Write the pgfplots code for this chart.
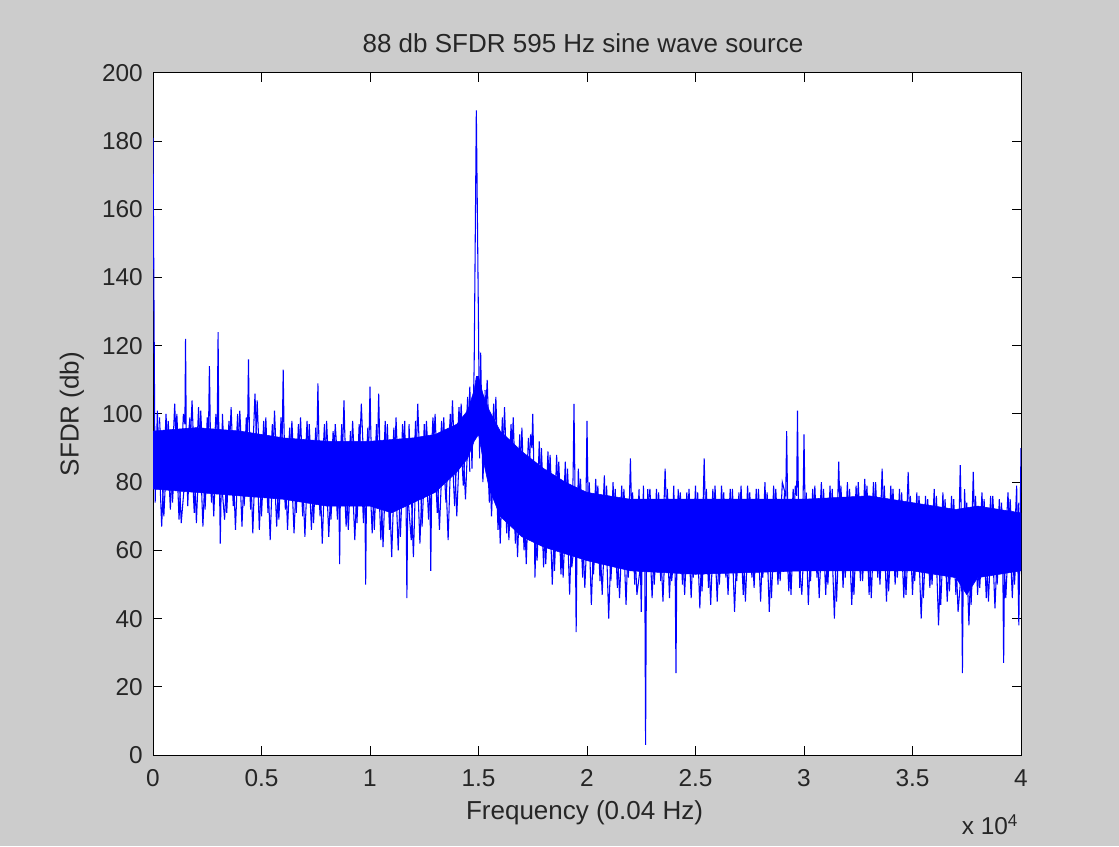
\documentclass[border=0pt]{standalone}
\usepackage{pgfplots}
\pgfplotsset{compat=1.18}
\usepackage{fontspec}
\setmainfont{Liberation Sans}
\definecolor{figgray}{gray}{0.8}
\definecolor{mblue}{rgb}{0,0,1}
\begin{document}
\begin{tikzpicture}
\fill[figgray] (0,0) rectangle (839.25pt,634.5pt);
\begin{axis}[
  at={(114.75pt,68.25pt)}, anchor=south west,
  scale only axis, width=651pt, height=511.5pt,
  xmin=0, xmax=4, ymin=0, ymax=200,
  xtick={0,0.5,1,1.5,2,2.5,3,3.5,4},
  ytick={0,20,40,60,80,100,120,140,160,180,200},
  tick align=inside, major tick length=6.5pt,
  tick style={black, line width=0.75pt},
  axis line style={black, line width=0.75pt},
  axis background/.style={fill=white},
  /pgf/number format/assume math mode=true,
  ticklabel style={font=\fontsize{18.3}{20}\selectfont, text=black!85},
  xticklabel style={anchor=north, inner sep=0pt, yshift=-11pt},
  yticklabel style={anchor=east, inner sep=0pt, xshift=-7.5pt},
  clip=true,
]
% dense core of the noise floor
\addplot[draw=mblue, line width=0.4pt, fill=mblue] coordinates {
(0,95)(0.2,96)(0.4,95)(0.6,93)(0.8,92)(1.0,92)(1.2,93)(1.3,94)(1.4,97)(1.45,101)(1.48,107)(1.49,111)(1.5,111)(1.52,106)(1.55,101)(1.6,95)(1.7,89)(1.8,84)(1.9,80)(2.0,77)(2.2,75)(2.5,75)(3.0,75)(3.3,76)(3.5,74)(3.7,72)(3.8,73)(4.0,71)
(4.0,54)(3.8,52)(3.75,47)(3.7,52)(3.5,54)(3.0,54)(2.5,53)(2.2,54)(2.0,57)(1.9,59)(1.8,61)(1.7,64)(1.6,70)(1.55,78)(1.52,87)(1.5,94)(1.48,92)(1.45,87)(1.4,83)(1.3,77)(1.2,74)(1.1,71)(1.0,73)(0.8,73)(0.6,75)(0.4,76)(0.2,77)(0,78)
} -- cycle;
% spectrum trace (even bins)
\addplot[mblue, line width=0.8pt, mark=none] coordinates {
(0.00,181)(0.01,74)(0.02,101)(0.04,67)(0.06,100)(0.08,72)(0.10,103)(0.12,69)(0.14,100)(0.147,97)(0.15,122)(0.153,96)
(0.16,73)(0.18,104)(0.20,68)(0.22,101)(0.24,72)(0.256,96)(0.26,114)(0.264,96)(0.28,70)(0.296,97)(0.30,124)(0.303,96)(0.31,62)(0.32,100)
(0.34,71)(0.36,102)(0.38,66)(0.40,101)(0.42,73)(0.436,96)(0.44,116)(0.444,96)(0.46,65)(0.48,104)(0.50,70)(0.52,99)
(0.54,63)(0.56,101)(0.58,69)(0.596,95)(0.60,113)(0.604,95)(0.62,66)(0.64,98)(0.66,71)(0.68,99)(0.70,64)(0.72,97)
(0.74,68)(0.756,94)(0.76,109)(0.764,94)(0.78,62)(0.80,98)(0.82,69)(0.84,97)(0.856,80)(0.86,56)(0.864,80)(0.876,94)(0.88,104)(0.884,94)(0.90,66)(0.92,98)
(0.94,68)(0.96,103)(0.976,78)(0.98,50)(0.984,78)(0.996,94)(1.00,108)(1.004,94)(1.02,66)(1.036,94)(1.04,106)(1.044,94)(1.06,61)(1.08,97)(1.10,58)(1.12,99)
(1.14,64)(1.16,98)(1.166,76)(1.17,46)(1.174,76)(1.18,97)(1.20,58)(1.22,103)(1.24,67)(1.26,98)(1.276,78)(1.28,54)(1.284,78)(1.30,100)
(1.32,66)(1.34,99)(1.36,63)(1.38,104)(1.40,70)(1.42,103)(1.44,75)(1.46,108)(1.47,84)(1.48,114)
(1.49,189)(1.50,126)(1.505,87)(1.51,118)(1.52,80)(1.54,110)(1.56,70)(1.58,105)(1.60,62)(1.62,102)
(1.64,63)(1.66,99)(1.68,58)(1.70,96)(1.72,56)(1.74,94)(1.746,90)(1.75,100)(1.754,88)(1.76,52)(1.78,92)(1.80,55)
(1.82,89)(1.84,50)(1.86,88)(1.88,53)(1.90,86)(1.92,47)(1.936,82)(1.94,103)(1.944,82)(1.95,36)(1.954,62)(1.96,84)(1.98,52)
(1.996,78)(2.00,98)(2.004,78)(2.02,44)(2.04,81)(2.06,51)(2.08,82)(2.10,40)(2.12,80)(2.14,49)(2.16,79)(2.18,44)
(2.196,76)(2.20,87)(2.204,76)(2.22,50)(2.24,78)(2.25,42)(2.26,79)(2.266,58)(2.27,3)(2.274,58)(2.28,78)(2.30,46)(2.32,78)(2.34,51)
(2.356,76)(2.36,84)(2.364,76)(2.38,46)(2.40,79)(2.406,56)(2.41,24)(2.414,56)(2.42,78)(2.44,50)(2.46,77)(2.48,46)(2.50,79)(2.52,43)
(2.536,76)(2.54,87)(2.544,76)(2.56,49)(2.58,78)(2.60,45)(2.62,79)(2.64,52)(2.66,78)(2.68,42)(2.70,77)(2.72,47)
(2.74,79)(2.76,52)(2.78,78)(2.80,45)(2.82,80)(2.84,42)(2.86,79)(2.88,50)(2.90,80)(2.916,76)(2.92,95)(2.924,76)
(2.94,47)(2.96,79)(2.966,76)(2.97,101)(2.974,76)(2.98,49)(2.996,76)(3.00,94)(3.004,76)(3.02,44)(3.04,78)(3.06,52)(3.08,80)(3.10,47)
(3.12,79)(3.14,40)(3.156,76)(3.16,86)(3.164,76)(3.18,49)(3.20,80)(3.22,44)(3.24,79)(3.26,51)(3.28,81)(3.30,47)
(3.32,80)(3.34,52)(3.356,76)(3.36,84)(3.364,76)(3.38,45)(3.40,79)(3.42,50)(3.44,78)(3.46,46)(3.476,75)(3.48,83)(3.484,75)(3.50,47)
(3.52,77)(3.54,40)(3.56,76)(3.58,49)(3.60,78)(3.62,38)(3.64,77)(3.66,45)(3.68,76)(3.70,47)
(3.716,73)(3.72,85)(3.724,73)(3.73,24)(3.734,55)(3.74,78)(3.76,38)(3.776,73)(3.78,83)(3.784,73)(3.80,47)(3.82,77)(3.84,46)(3.86,76)(3.88,43)
(3.90,75)(3.916,56)(3.92,27)(3.924,56)(3.94,77)(3.96,46)(3.98,79)(3.99,38)(4.00,90)
};
% spectrum trace (odd bins)
\addplot[mblue, line width=0.8pt, mark=none] coordinates {
(0.03,99)(0.05,70)(0.07,98)(0.09,74)(0.11,100)(0.13,68)(0.17,99)(0.19,71)(0.21,102)(0.23,67)
(0.25,99)(0.27,74)(0.29,100)(0.33,69)(0.35,98)(0.37,73)(0.39,100)(0.41,67)(0.43,99)(0.45,72)
(0.47,106)(0.49,66)(0.51,98)(0.53,71)(0.55,97)(0.57,67)(0.59,99)(0.61,72)(0.63,96)(0.65,65)
(0.67,97)(0.69,70)(0.71,98)(0.73,66)(0.75,96)(0.77,70)(0.79,97)(0.81,64)(0.83,95)(0.85,69)
(0.87,97)(0.89,67)(0.91,95)(0.93,63)(0.95,97)(0.97,68)(0.99,96)(1.01,65)(1.03,97)(1.05,63)
(1.07,98)(1.09,66)(1.11,96)(1.13,60)(1.15,97)(1.19,63)(1.21,98)(1.23,62)(1.25,97)(1.27,69)
(1.29,99)(1.31,71)(1.33,98)(1.35,74)(1.37,100)(1.39,73)(1.41,102)(1.43,79)(1.45,105)(1.46,83)
};
\addplot[mblue, line width=0.8pt, mark=none] coordinates {
(1.53,107)(1.55,74)(1.57,103)(1.59,66)(1.61,99)(1.63,65)(1.65,97)(1.67,62)(1.69,94)(1.71,60)
(1.73,93)(1.77,57)(1.79,90)(1.81,56)(1.83,88)(1.85,54)(1.87,86)(1.89,52)(1.91,84)(1.93,55)
(1.97,81)(1.99,49)(2.01,80)(2.03,53)(2.05,79)(2.07,47)(2.09,79)(2.11,51)(2.13,78)(2.15,46)
(2.17,78)(2.19,52)(2.21,77)(2.23,47)(2.29,78)(2.31,50)(2.33,77)(2.35,45)(2.37,78)(2.39,51)
(2.43,77)(2.45,47)(2.47,78)(2.49,52)(2.51,77)(2.53,48)(2.55,78)(2.57,44)(2.59,79)(2.61,50)
(2.63,77)(2.65,47)(2.67,78)(2.69,51)(2.71,79)(2.73,45)(2.75,77)(2.77,49)(2.79,78)(2.81,52)
(2.83,77)(2.85,46)(2.87,78)(2.89,51)(2.91,77)(2.93,48)(2.95,78)(2.99,47)(3.01,77)(3.03,51)
(3.05,79)(3.07,46)(3.09,78)(3.11,50)(3.13,78)(3.15,45)(3.17,79)(3.19,52)(3.21,78)(3.23,47)
(3.25,80)(3.27,51)(3.29,79)(3.31,46)(3.33,80)(3.35,50)(3.37,79)(3.39,48)(3.41,78)(3.43,52)
(3.45,77)(3.47,47)(3.49,76)(3.51,51)(3.53,76)(3.55,46)(3.57,75)(3.59,50)(3.61,76)(3.63,44)
(3.65,75)(3.67,48)(3.69,75)(3.71,42)(3.75,74)(3.77,44)(3.79,76)(3.81,49)(3.83,75)(3.85,45)
(3.87,76)(3.89,50)(3.91,74)(3.93,46)(3.95,75)(3.97,50)(3.99,74)
};
\end{axis}
\node[font=\fontsize{19.5}{22}\selectfont, text=black!85, anchor=center]
  at (437.25pt,602.25pt) {88 db SFDR 595 Hz sine wave source};
\node[font=\fontsize{19.5}{22}\selectfont, text=black!85, anchor=center]
  at (438.4pt,24.75pt) {Frequency (0.04 Hz)};
\node[font=\fontsize{19.5}{22}\selectfont, text=black!85, anchor=center, rotate=90]
  at (54pt,324pt) {SFDR (db)};
\node[font=\fontsize{18.3}{20}\selectfont, text=black!85, anchor=center]
  at (742.5pt,15.75pt) {x 10\textsuperscript{4}};
\pgfresetboundingbox
\path[use as bounding box] (0,0) rectangle (839.25pt,634.5pt);
\end{tikzpicture}
\end{document}
